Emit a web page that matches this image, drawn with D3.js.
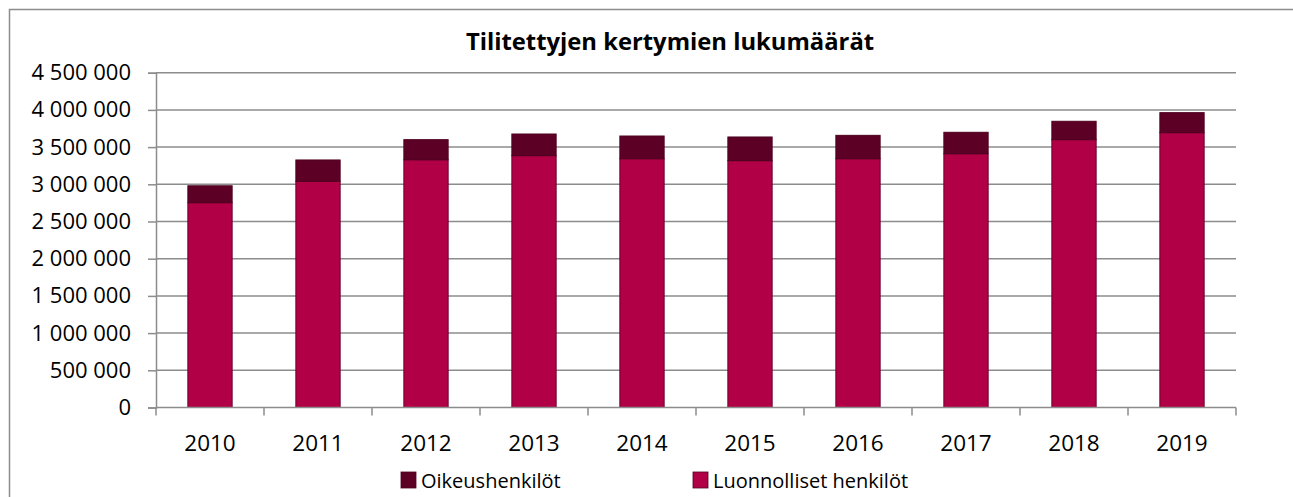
<!DOCTYPE html>
<html>
<head>
<meta charset="utf-8">
<script src="https://cdn.jsdelivr.net/npm/d3@7"></script>
<style>
  body { margin: 0; background: #fff; }
  text { font-family: "Open Sans", sans-serif; fill: #000; }
</style>
</head>
<body>
<svg id="chart" width="1293" height="497"></svg>
<script>
var years = ["2010", "2011", "2012", "2013", "2014", "2015", "2016", "2017", "2018", "2019"];
// luonnolliset henkilöt (bottom) and oikeushenkilöt (top) per year
var luonnolliset = [2753000, 3040000, 3330000, 3385000, 3344000, 3318000, 3344000, 3411000, 3600000, 3694000];
var oikeus = [227000, 287000, 270000, 291000, 305000, 318000, 314000, 288000, 247000, 269000];
var yTicks = [0, 500000, 1000000, 1500000, 2000000, 2500000, 3000000, 3500000, 4000000, 4500000];
var seriesNames = ["Oikeushenkilöt", "Luonnolliset henkilöt"];

var cLuonn = "#b10046", cOik = "#5c0026";
var gridCol = "#8c8c8c";

var svg = d3.select("#chart");
var pLeft = 156, pRight = 1236, pTop = 72.7, pBottom = 407.5;

// outer frame
svg.append("rect")
    .attr("x", 9.5).attr("y", 9.5)
    .attr("width", 1300).attr("height", 500)
    .attr("fill", "none").attr("stroke", gridCol).attr("stroke-width", 1.5);

svg.append("text")
    .attr("x", 670).attr("y", 50)
    .attr("text-anchor", "middle")
    .style("font-weight", "bold").style("font-size", "23.8px")
    .text("Tilitettyjen kertymien lukumäärät");

var x = d3.scaleBand().domain(years).range([pLeft, pRight]).paddingInner(0.59).paddingOuter(0.295);
var y = d3.scaleLinear().domain([0, 4500000]).range([pBottom, pTop]);

var fmt = function(v) { return d3.format(",")(v).replace(/,/g, " "); };

// gridlines
svg.append("g").selectAll("line")
    .data(yTicks.slice(1))
    .enter().append("line")
    .attr("x1", pLeft).attr("x2", pRight)
    .attr("y1", function(d) { return y(d); }).attr("y2", function(d) { return y(d); })
    .attr("stroke", gridCol).attr("stroke-width", 1.5);

// bars
var gb = svg.append("g");
years.forEach(function(yr, i) {
    gb.append("rect")
        .attr("x", x(yr)).attr("width", x.bandwidth())
        .attr("y", y(luonnolliset[i])).attr("height", y(0) - y(luonnolliset[i]))
        .attr("fill", cLuonn).attr("stroke", "#6a0030").attr("stroke-width", 1);
    gb.append("rect")
        .attr("x", x(yr)).attr("width", x.bandwidth())
        .attr("y", y(luonnolliset[i] + oikeus[i])).attr("height", y(luonnolliset[i]) - y(luonnolliset[i] + oikeus[i]))
        .attr("fill", cOik).attr("stroke", "#4e001f").attr("stroke-width", 1);
});

// y axis
var ya = svg.append("g").attr("transform", "translate(" + pLeft + ",0)")
    .call(d3.axisLeft(y).tickValues(yTicks).tickFormat(fmt).tickSize(8).tickPadding(17));
ya.select(".domain").attr("stroke", gridCol).attr("stroke-width", 1.5);
ya.selectAll(".tick line").attr("stroke", gridCol).attr("stroke-width", 1.5);
ya.selectAll("text").style("font-size", "22px").style("font-family", "Open Sans");

// x axis
var step = x.step();
var xa = svg.append("g").attr("transform", "translate(0," + pBottom + ")");
xa.append("line").attr("x1", pLeft).attr("x2", pRight).attr("stroke", gridCol).attr("stroke-width", 1.5);
xa.selectAll(".xt").data(d3.range(years.length + 1)).enter().append("line")
    .attr("x1", function(d) { return pLeft + d * step; }).attr("x2", function(d) { return pLeft + d * step; })
    .attr("y1", 0).attr("y2", 8).attr("stroke", gridCol).attr("stroke-width", 1.5);
xa.selectAll(".xl").data(years).enter().append("text")
    .attr("x", function(d) { return x(d) + x.bandwidth() / 2; })
    .attr("y", 43)
    .attr("text-anchor", "middle")
    .style("font-size", "22.5px")
    .text(function(d) { return d; });

// legend
var legX = [401, 693], legCol = [cOik, cLuonn];
seriesNames.forEach(function(n, i) {
    svg.append("rect").attr("x", legX[i]).attr("y", 472).attr("width", 15).attr("height", 16)
        .attr("fill", legCol[i]).attr("stroke", "#4e001f").attr("stroke-width", 0.8);
    svg.append("text").attr("x", legX[i] + 20).attr("y", 487.5)
        .style("font-size", "20px").text(n);
});
</script>
</body>
</html>
